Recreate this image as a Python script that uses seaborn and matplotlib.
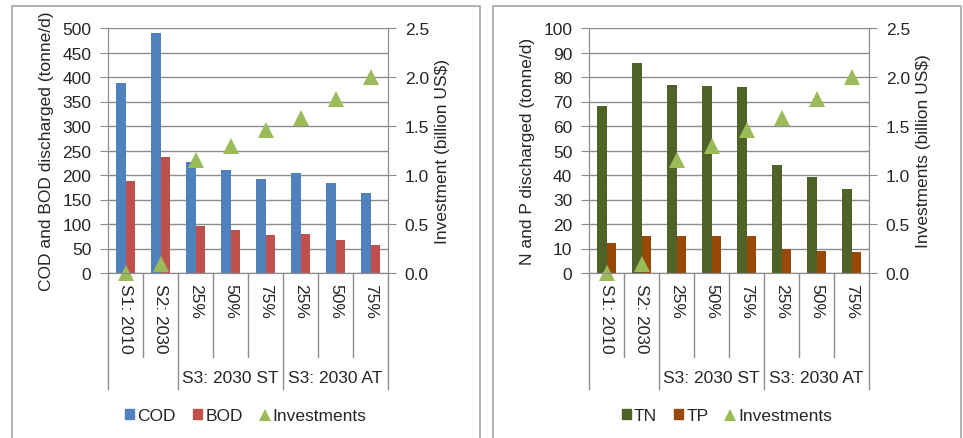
"""Discharge loads and investments per scenario: COD/BOD (left) and TN/TP (right)."""

import matplotlib
matplotlib.use("Agg")

import matplotlib.pyplot as plt
import numpy as np
import pandas as pd
import seaborn as sns
from matplotlib.lines import Line2D
from matplotlib.patches import Patch, Rectangle

# scenario keys (unique) and the labels shown under the axis
scenarios = ["S1: 2010", "S2: 2030", "ST 25%", "ST 50%", "ST 75%", "AT 25%", "AT 50%", "AT 75%"]
tick_labels = ["S1: 2010", "S2: 2030", "25%", "50%", "75%", "25%", "50%", "75%"]
group_labels = ["S3: 2030 ST", "S3: 2030 AT"]
group_members = [[2, 3, 4], [5, 6, 7]]

cod = [388, 490, 227, 210, 192, 205, 184, 163]
bod = [187, 237, 96, 88, 78, 80, 68, 58]
tn = [68, 85.6, 76.7, 76.4, 75.9, 44.1, 39.2, 34.4]
tp = [12.1, 15.0, 14.9, 14.9, 14.9, 10.0, 9.1, 8.4]
investments = [0.0, 0.09, 1.15, 1.30, 1.46, 1.58, 1.78, 2.0]

W, H = 963, 439
GRAY = "#8c8c8c"
GREEN = "#9BBB59"
FS = 12.5

sns.set_style("white")
plt.rcParams["font.family"] = ["Liberation Sans", "DejaVu Sans"]


def px(x, y, w, h):
    return [x / W, 1 - (y + h) / H, w / W, h / H]


def draw_panel(fig, rect, frame, names, values, colors, ymax, ystep, ylabel, y2label):
    ax = fig.add_axes(px(*rect))
    df = pd.DataFrame({
        "scenario": scenarios * 2,
        "value": values[0] + values[1],
        "series": [names[0]] * len(scenarios) + [names[1]] * len(scenarios),
    })
    sns.barplot(data=df, x="scenario", y="value", hue="series", order=scenarios,
                palette=colors, width=0.57, saturation=1, linewidth=0,
                legend=False, ax=ax)
    ax.set_ylim(0, ymax)
    ax.set_yticks(np.arange(0, ymax + 1, ystep))
    ax.yaxis.grid(True, color=GRAY, lw=1)
    ax.set_axisbelow(True)
    ax.set_xlabel("")
    ax.set_ylabel(ylabel, fontsize=FS, labelpad=6)

    ax2 = ax.twinx()
    sns.pointplot(x=scenarios, y=investments, order=scenarios, color=GREEN,
                  marker="^", linestyle="none", markersize=11, errorbar=None, ax=ax2)
    for ln in ax2.lines:
        ln.set_clip_on(False)
        ln.set_markeredgewidth(0)
    ax2.set_ylim(0, 2.5)
    ax2.set_yticks(np.arange(0, 2.51, 0.5))
    ax2.yaxis.set_major_formatter(matplotlib.ticker.FormatStrFormatter("%.1f"))
    ax2.set_ylabel(y2label, fontsize=FS, labelpad=4)

    for a in (ax, ax2):
        a.spines["top"].set_visible(False)
        for s in ("left", "right", "bottom"):
            a.spines[s].set_color(GRAY)
        a.tick_params(axis="y", length=6, color=GRAY, pad=6, labelsize=FS)

    ax.set_xlim(-0.5, len(scenarios) - 0.5)
    ax.set_xticks(range(len(scenarios)))
    ax.set_xticklabels(tick_labels, rotation=-90, fontsize=FS)
    ax.tick_params(axis="x", length=0, pad=7)

    # category separators of the two-level axis
    trans = ax.get_xaxis_transform()
    long_cuts = {-0.5, 1.5, 4.5, len(scenarios) - 0.5}
    for b in np.arange(-0.5, len(scenarios)):
        depth = 0.473 if b in long_cuts else 0.343
        ax.plot([b, b], [0, -depth], transform=trans, color=GRAY, lw=1, clip_on=False)
    for label, members in zip(group_labels, group_members):
        ax.text(np.mean(members), -0.428, label, transform=trans, ha="center",
                va="center", fontsize=FS)

    # legend and panel frame
    fx, fw = frame
    handles = [Patch(color=colors[0]), Patch(color=colors[1]),
               Line2D([], [], marker="^", color=GREEN, ls="none", markersize=9,
                      markeredgewidth=0)]
    fig.legend(handles, [names[0], names[1], "Investments"], ncol=3,
               loc="center", bbox_to_anchor=((fx + fw / 2) / W, 1 - 417 / H),
               frameon=False, fontsize=FS, handlelength=0.5, handleheight=0.5,
               handletextpad=0.2, columnspacing=1.0)
    fig.add_artist(Rectangle((fx / W, -0.02), fw / W, 1 - 7 / H + 0.02,
                             transform=fig.transFigure, fill=False,
                             edgecolor="#a6a6a6", lw=1.2))


fig = plt.figure(figsize=(W / 100, H / 100), dpi=100)
draw_panel(fig, (108, 29, 280, 245), (12, 468), ["COD", "BOD"], [cod, bod],
           ["#4F81BD", "#C0504D"], 500, 50,
           "COD and BOD discharged (tonne/d)", "Investment (billion US$)")
draw_panel(fig, (589, 29, 280, 245), (493, 468), ["TN", "TP"], [tn, tp],
           ["#4F6228", "#984807"], 100, 10,
           "N and P discharged (tonne/d)", "Investments (billion US$)")
fig.savefig("out.png", dpi=100)
